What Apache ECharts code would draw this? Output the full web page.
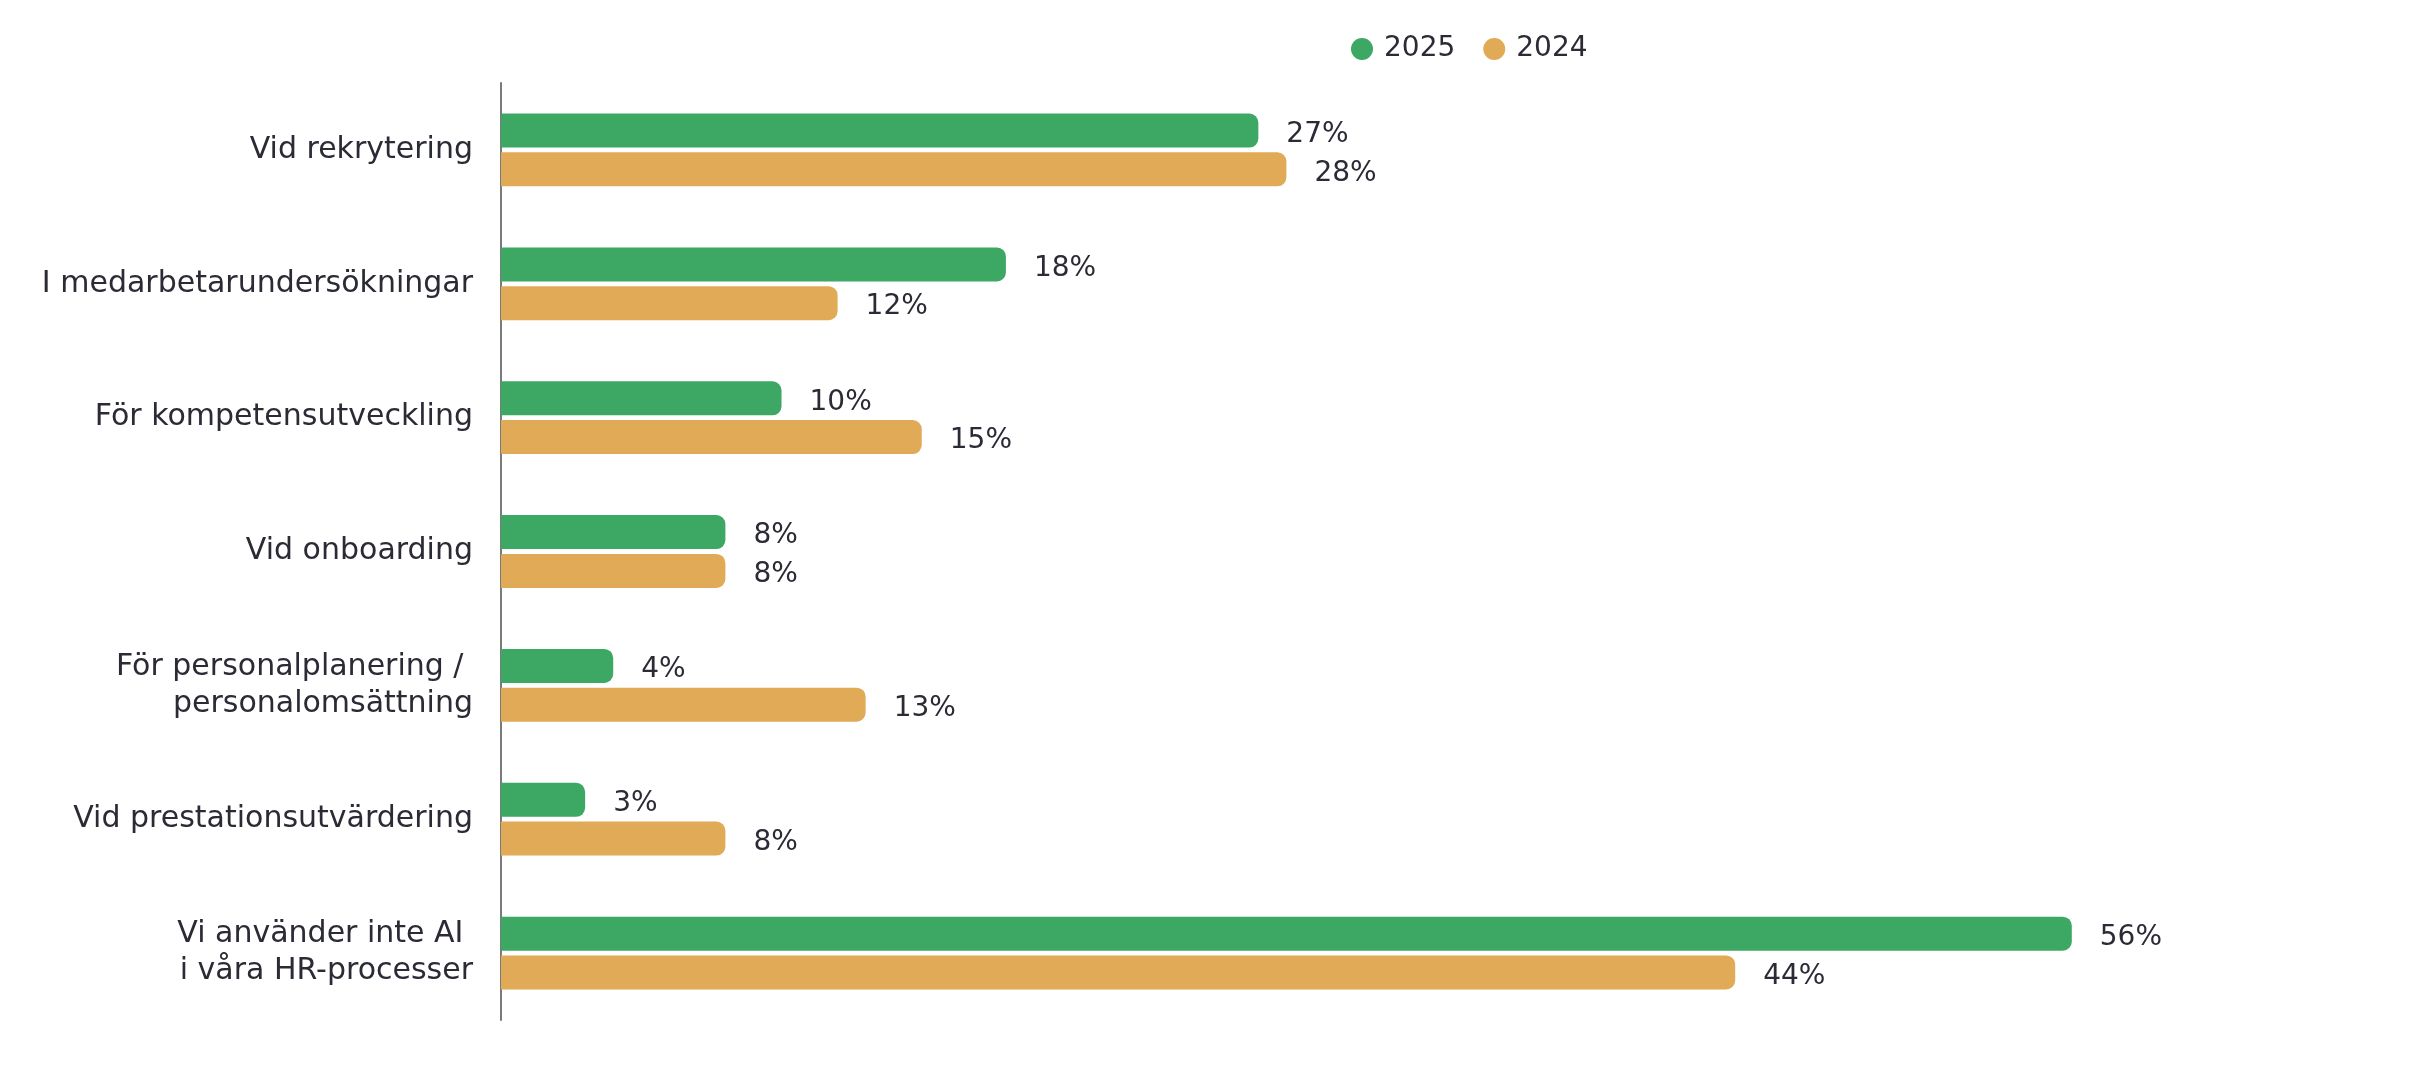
<!DOCTYPE html>
<html>
<head>
<meta charset="utf-8">
<script src="https://cdn.jsdelivr.net/npm/echarts@6/dist/echarts.min.js"></script>
<style>html,body{margin:0;padding:0;background:#fff;}#c{width:2424px;height:1072px;}</style>
</head>
<body>
<div id="c"></div>
<script>
const categories = [
  "Vid rekrytering",
  "I medarbetarundersökningar",
  "För kompetensutveckling",
  "Vid onboarding",
  "För personalplanering / \npersonalomsättning",
  "Vid prestationsutvärdering",
  "Vi använder inte AI \ni våra HR-processer"
];
const values2025 = [27, 18, 10, 8, 4, 3, 56];
const values2024 = [28, 12, 15, 8, 13, 8, 44];
const seriesNames = ["2025", "2024"];

const FONT = "DejaVu Sans";
const TEXT = "#2b2b36";
const chart = echarts.init(document.getElementById('c'));
const labelCfg = {
  show: true, position: 'right', distance: 28, offset: [0, 4],
  formatter: p => p.value + '%',
  fontFamily: FONT, fontSize: 28, color: TEXT
};
chart.setOption({
  animation: false,
  legend: {
    left: 1346, top: 30,
    icon: 'circle', itemWidth: 22, itemHeight: 22, itemGap: 28,
    textStyle: { fontFamily: FONT, fontSize: 28, color: TEXT, padding: [0,0,0,6] },
    data: seriesNames
  },
  grid: { left: 501, right: 240, top: 83, bottom: 52, containLabel: false },
  xAxis: { type: 'value', min: 0, max: 60, show: false, splitLine: { show: false } },
  yAxis: {
    type: 'category', inverse: true, data: categories,
    axisLine: { show: true, lineStyle: { color: '#7a7a7a', width: 2 } },
    axisTick: { show: false },
    axisLabel: { margin: 28, fontFamily: FONT, fontSize: 30, color: TEXT, lineHeight: 37, align: 'right' }
  },
  series: [
    { name: seriesNames[0], type: 'bar', data: values2025, barWidth: 34, barGap: '14%',
      itemStyle: { color: '#3da764', borderRadius: [0, 9, 9, 0] }, label: labelCfg },
    { name: seriesNames[1], type: 'bar', data: values2024, barWidth: 34, barGap: '14%',
      itemStyle: { color: '#e0aa57', borderRadius: [0, 9, 9, 0] }, label: labelCfg }
  ]
});
</script>
</body>
</html>
